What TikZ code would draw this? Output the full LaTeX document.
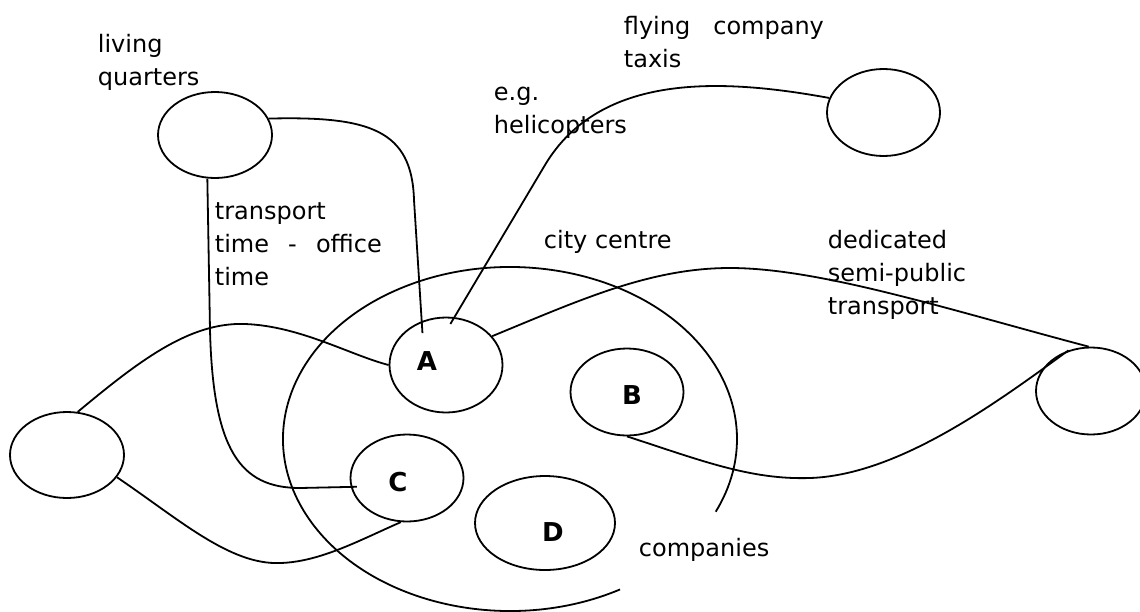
\documentclass[tikz,border=0pt]{standalone}
\usepackage{fontspec}
\setmainfont{DejaVu Sans}
\usepackage{tikz}
\usetikzlibrary{shapes}

\begin{document}
\begin{tikzpicture}[x=0.5pt,y=-0.5pt,line width=0.9pt,
    every node/.style={font=\fontsize{12}{16.5}\selectfont},
    place/.style={ellipse,draw,minimum width=56.5pt,minimum height=43.5pt,inner sep=0pt},
    letter/.style={font=\fontsize{13}{15}\selectfont\bfseries},
    lbl/.style={anchor=north west,align=left,inner sep=0pt}]
  \useasboundingbox (0,0) rectangle (1140,611);
  \node[place,minimum width=57pt,minimum height=43pt] (living) at (215,135) {};
  \node[place] (flying) at (883.5,112.5) {};
  \node[place,minimum width=57pt,minimum height=43pt] (west) at (67,455) {};
  \node[place,minimum width=55pt] (east) at (1091,391) {};
  \node[place,minimum height=47.5pt] (A) at (446,365) {};
  \node[place] (B) at (627,392) {};
  \node[place] (C) at (407,478) {};
  \node[place,minimum width=70pt,minimum height=47pt] (D) at (545,523) {};
  \node[letter] (labA) at (427,361) {A};
  \node[letter] (labB) at (632,395) {B};
  \node[letter] (labC) at (398,482) {C};
  \node[letter] (labD) at (553,532) {D};
  % city centre, open at the bottom right
  \coordinate (centre) at (510,439);
  \draw (centre) ++(61:227 and 172) arc[start angle=61,end angle=385,x radius=227,y radius=172];
  % texts
  \node[lbl] (liv) at (97,33) {living\\quarters};
  \node[lbl] (fly) at (623,15) {\makebox[100pt][s]{flying company}\\taxis};
  \node[lbl] (heli) at (493,86) {e.g.\\helicopters};
  \node[lbl] (trans) at (214,202) {transport\\\makebox[83.5pt][s]{time - office}\\time};
  \node[lbl] (city) at (543,229) {city centre};
  \node[lbl] (dedi) at (827,229) {dedicated\\semi-public\\transport};
  \node[anchor=base west,inner sep=0pt] (comp) at (638,556) {companies};
  % links
  \draw[shorten >=-6pt] (living.17) .. controls (370,116) and (412,130) .. (414,200) -- (A.119);
  \draw[shorten >=-4pt] (flying.165) .. controls (720,78) and (600,73) .. (545,165) -- (A.80);
  \draw (west.76) .. controls (140,360) and (190,322) .. (245,324)
    .. controls (300,326) and (350,355) .. (A.west);
  \draw (west.336) .. controls (180,520) and (230,565) .. (280,563)
    .. controls (320,562) and (360,540) .. (C.262);
  \draw[shorten >=-3pt] (living.260) -- (210,330) .. controls (213,450) and (240,488) .. (300,488) -- (C.189);
  \draw (A.32) .. controls (580,300) and (650,268) .. (730,268)
    .. controls (820,268) and (950,310) .. (east.93);
  \draw (B.south) .. controls (700,460) and (750,480) .. (810,478)
    .. controls (900,475) and (1000,400) .. (east.119);
\end{tikzpicture}
\end{document}
